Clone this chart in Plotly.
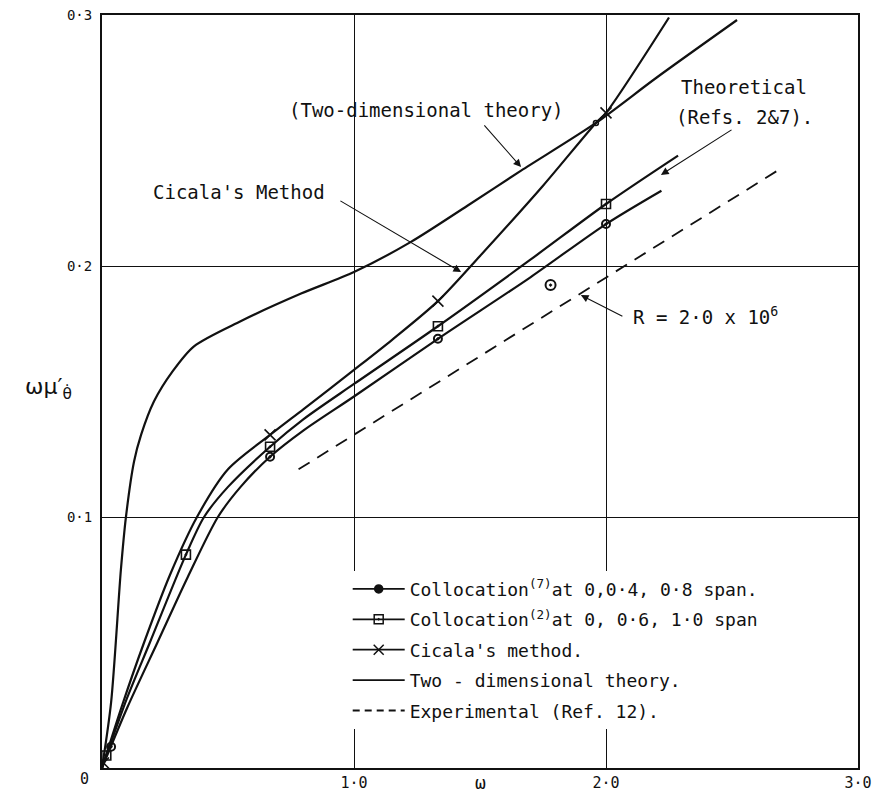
import plotly.graph_objects as go

# ---- data ----
two_dim_x = [0, 0.036, 0.075, 0.095, 0.127, 0.155, 0.206, 0.28, 0.365, 0.55, 0.79, 1.0, 1.226, 1.45, 1.663, 1.96, 2.2, 2.52]
two_dim_y = [0, 0.026, 0.079, 0.1, 0.122, 0.1327, 0.146, 0.158, 0.168, 0.178, 0.189, 0.1976, 0.2096, 0.224, 0.238, 0.257, 0.275, 0.298]

cicala_x = [0, 0.08, 0.167, 0.27, 0.377, 0.5, 0.667, 0.8, 1.0, 1.15, 1.333, 1.5, 1.75, 1.96, 2.0, 2.25]
cicala_y = [0, 0.025, 0.05, 0.077, 0.1, 0.119, 0.1327, 0.143, 0.1586, 0.1705, 0.186, 0.204, 0.232, 0.257, 0.261, 0.299]

coll2_x = [0, 0.1, 0.19, 0.333, 0.405, 0.5, 0.667, 0.8, 1.0, 1.333, 1.7, 2.0, 2.286]
coll2_y = [0, 0.028, 0.05, 0.085, 0.1, 0.112, 0.128, 0.139, 0.153, 0.176, 0.2025, 0.2247, 0.244]

coll7_x = [0, 0.1, 0.22, 0.34, 0.46, 0.55, 0.667, 0.8, 1.0, 1.333, 1.7, 2.0, 2.22]
coll7_y = [0, 0.024, 0.05, 0.076, 0.1, 0.112, 0.124, 0.1345, 0.148, 0.171, 0.1955, 0.2167, 0.230]

exp_x = [0.78, 2.69]
exp_y = [0.119, 0.2386]

coll7_pts_x = [0.036, 0.667, 1.333, 2.0]
coll7_pts_y = [0.0085, 0.124, 0.171, 0.2167]
coll2_pts_x = [0.017, 0.333, 0.667, 1.333, 2.0]
coll2_pts_y = [0.005, 0.085, 0.128, 0.176, 0.2247]
cicala_pts_x = [0.006, 0.667, 1.333, 2.0]
cicala_pts_y = [0.002, 0.1327, 0.186, 0.261]
meeting_pt_x = [1.96]
meeting_pt_y = [0.257]
exp_pt_x = [1.78]
exp_pt_y = [0.1924]

legend_names = [
    "Collocation<sup>(7)</sup>at 0,0·4, 0·8 span.",
    "Collocation<sup>(2)</sup>at 0, 0·6, 1·0 span",
    "Cicala's method.",
    "Two - dimensional theory.",
    "Experimental (Ref. 12).",
]

x_tickvals = [1, 2, 3]
x_ticktext = ["1·0", "2·0", "3·0"]
y_tickvals = [0.1, 0.2, 0.3]
y_ticktext = ["0·1", "0·2", "0·3"]

FONT = "DejaVu Sans Mono"
BLACK = "#111111"
LW = 2.2

fig = go.Figure()

def curve(x, y, dash="solid"):
    fig.add_trace(go.Scatter(x=x, y=y, mode="lines", showlegend=False, hoverinfo="skip",
                             line=dict(color=BLACK, width=LW, shape="spline", smoothing=0.8, dash=dash)))

curve(two_dim_x, two_dim_y)
curve(cicala_x, cicala_y)
curve(coll2_x, coll2_y)
curve(coll7_x, coll7_y)
fig.add_trace(go.Scatter(x=exp_x, y=exp_y, mode="lines", showlegend=False,
                         line=dict(color=BLACK, width=1.8, dash="13px,9px")))

def pts(x, y, symbol, size, lw=1.5):
    fig.add_trace(go.Scatter(x=x, y=y, mode="markers", showlegend=False,
                             marker=dict(symbol=symbol, size=size, color=BLACK,
                                         line=dict(color=BLACK, width=lw))))

pts(coll7_pts_x, coll7_pts_y, "circle-open-dot", 8, 2)
pts(coll2_pts_x, coll2_pts_y, "square-open-dot", 9, 1.6)
pts(cicala_pts_x, cicala_pts_y, "x-thin-open", 11, 1.6)
pts(meeting_pt_x, meeting_pt_y, "circle-open", 5, 1.5)
pts(exp_pt_x, exp_pt_y, "circle-open-dot", 10, 2)

# legend entries
leg_specs = [
    ("lines+markers", "circle", 8, "solid"),
    ("lines+markers", "square-open-dot", 9, "solid"),
    ("lines+markers", "x-thin-open", 10, "solid"),
    ("lines", "circle", 1, "solid"),
    ("lines", "circle", 1, "7px,5px"),
]
for i, (mode, sym, size, dash) in enumerate(leg_specs):
    fig.add_trace(go.Scatter(x=[None], y=[None], mode=mode, name=legend_names[i],
                             legendgroup=f"g{i}",
                             line=dict(color=BLACK, width=1.8, dash=dash),
                             marker=dict(symbol=sym, size=size, color=BLACK,
                                         line=dict(color=BLACK, width=1.5))))

tfont = dict(family=FONT, size=19, color=BLACK)
annotations = [
    dict(x=1.286, y=0.2622, text="(Two-dimensional theory)", showarrow=False, font=tfont),
    dict(x=0.194, y=0.2295, text="Cicala's Method", showarrow=False, xanchor="left", font=tfont),
    dict(x=2.29, y=0.2713, text="Theoretical", showarrow=False, xanchor="left", font=tfont),
    dict(x=2.27, y=0.2594, text="(Refs. 2&7).", showarrow=False, xanchor="left", font=tfont),
    dict(x=2.099, y=0.1801, text="R = 2·0 x 10<sup>6</sup>", showarrow=False, xanchor="left", font=tfont),
    dict(x=0, y=0, xref="paper", yref="paper", text="0", showarrow=False,
         xanchor="center", yanchor="middle", xshift=-18, yshift=-11,
         font=dict(family=FONT, size=15, color=BLACK)),
    dict(x=0.5, y=0, xref="paper", yref="paper", text="ω", showarrow=False,
         xanchor="center", yanchor="middle", yshift=-14,
         font=dict(family=FONT, size=18, color=BLACK)),
    dict(x=0, y=0.5, xref="paper", yref="paper", text="ωμ′<sub>θ̇</sub>", showarrow=False,
         xanchor="center", xshift=-54, yshift=3, font=dict(family="DejaVu Sans", size=22, color=BLACK)),
]
arrows = [
    (1.663, 0.2394, 1.512, 0.2566),
    (1.425, 0.1976, 0.940, 0.2263),
    (2.218, 0.2363, 2.504, 0.2546),
    (1.90, 0.1884, 2.071, 0.1797),
]
for tx, ty, sx, sy in arrows:
    annotations.append(dict(x=tx, y=ty, ax=sx, ay=sy, axref="x", ayref="y", text="",
                            showarrow=True, arrowhead=2, arrowsize=1.4, arrowwidth=1.1,
                            arrowcolor=BLACK))

# page body adds a small offset, so the figure is sized to keep the plot area in place
fig.update_layout(
    width=883, height=786,
    margin=dict(l=94, r=33, t=7, b=26, autoexpand=False),
    paper_bgcolor="white", plot_bgcolor="white",
    font=dict(family=FONT, color=BLACK),
    annotations=annotations,
    showlegend=True,
    legend=dict(x=0.325, y=0.262, xanchor="left", yanchor="top", bgcolor="white",
                font=dict(family=FONT, size=18, color=BLACK), itemwidth=52,
                tracegroupgap=4, traceorder="grouped"),
    xaxis=dict(range=[0, 3], tickvals=x_tickvals, ticktext=x_ticktext, showgrid=True,
               gridcolor=BLACK, gridwidth=1.4, zeroline=False, showline=True, mirror=True,
               linecolor=BLACK, linewidth=2, ticks="", ticklabelstandoff=0, automargin=False,
               ticklabeloverflow="allow",
               tickfont=dict(family=FONT, size=15, color=BLACK)),
    yaxis=dict(range=[0, 0.3], tickvals=y_tickvals, ticktext=y_ticktext, showgrid=True,
               gridcolor=BLACK, gridwidth=1.4, zeroline=False, showline=True, mirror=True,
               linecolor=BLACK, linewidth=2, ticks="", ticklabelstandoff=5, automargin=False,
               ticklabeloverflow="allow",
               tickfont=dict(family=FONT, size=14, color=BLACK)),
)

fig.write_html("out.html")
